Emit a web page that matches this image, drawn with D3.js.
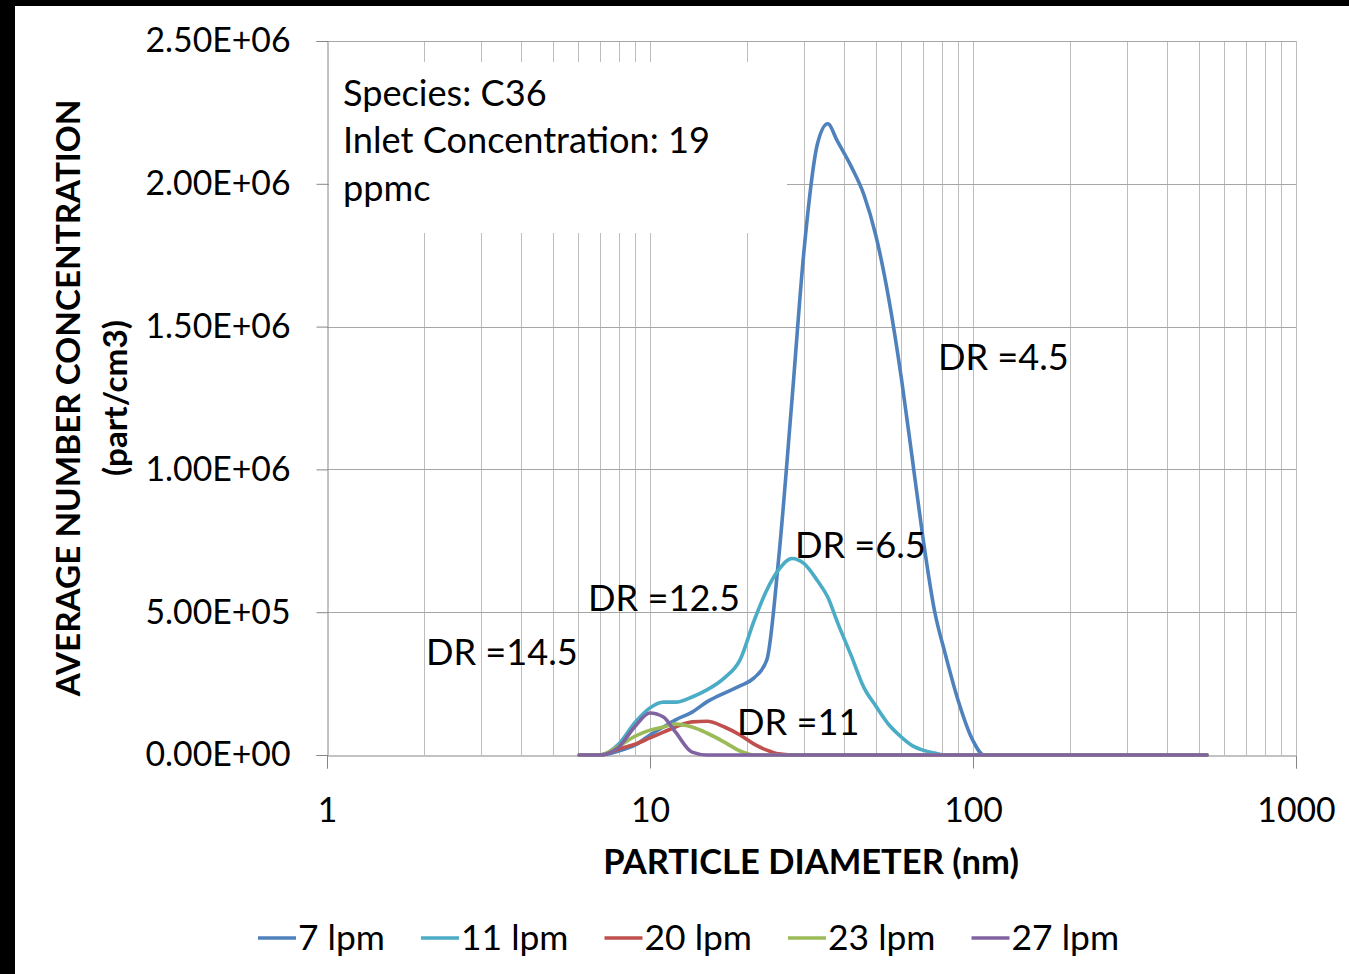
<!DOCTYPE html>
<html>
<head>
<meta charset="utf-8">
<script src="https://cdn.jsdelivr.net/npm/d3@7/dist/d3.min.js"></script>
<style>
html, body { margin: 0; padding: 0; background: #000; }
svg { display: block; }
</style>
</head>
<body>
<svg id="chart" width="1349" height="974"></svg>
<script>
// ---------------- DATA ----------------
const diameters = [6.04, 7, 8, 9, 10, 11, 12, 13.5, 15, 17, 19, 21, 23, 25, 27.5, 30, 33, 35.5, 38, 42, 46, 50, 55, 60, 65, 70, 76, 82, 90, 100, 108, 130, 200, 300, 400, 530];
const lpm7  = [0, 0, 14000, 35000, 70000, 98000, 123000, 150000, 186000, 217000, 242000, 270000, 333000, 683000, 1240000, 1770000, 2140000, 2210000, 2150000, 2060000, 1960000, 1820000, 1590000, 1320000, 1030000, 760000, 505000, 355000, 190000, 50000, 0, 0, 0, 0, 0, 0];
const lpm11 = [0, 0, 38000, 115000, 165000, 185000, 185000, 203000, 228000, 270000, 333000, 470000, 578000, 648000, 688000, 670000, 610000, 553000, 466000, 347000, 235000, 172000, 105000, 63000, 32000, 17000, 7000, 0, 0, 0, 0, 0, 0, 0, 0, 0];
const lpm20 = [0, 0, 21000, 38000, 60000, 80000, 98000, 116000, 118000, 98000, 70000, 38000, 17000, 4000, 0, 0, 0, 0, 0, 0, 0, 0, 0, 0, 0, 0, 0, 0, 0, 0, 0, 0, 0, 0, 0, 0];
const lpm23 = [0, 0, 31000, 66000, 87000, 98000, 108000, 98000, 77000, 45000, 14000, 0, 0, 0, 0, 0, 0, 0, 0, 0, 0, 0, 0, 0, 0, 0, 0, 0, 0, 0, 0, 0, 0, 0, 0, 0];
const lpm27 = [0, 0, 28000, 101000, 147000, 133000, 80000, 10000, 0, 0, 0, 0, 0, 0, 0, 0, 0, 0, 0, 0, 0, 0, 0, 0, 0, 0, 0, 0, 0, 0, 0, 0, 0, 0, 0, 0];

const seriesNames = ["7 lpm", "11 lpm", "20 lpm", "23 lpm", "27 lpm"];
const seriesValues = [lpm7, lpm11, lpm20, lpm23, lpm27];
const seriesColors = ["#4F81BD", "#4BACC6", "#C0504D", "#9BBB59", "#8064A2"];

const xTicks = [1, 10, 100, 1000];
const xTickLabels = ["1", "10", "100", "1000"];
const yTicks = [0, 500000, 1000000, 1500000, 2000000, 2500000];
const yTickLabels = ["0.00E+00", "5.00E+05", "1.00E+06", "1.50E+06", "2.00E+06", "2.50E+06"];

const drLabels = ["DR =4.5", "DR =6.5", "DR =12.5", "DR =14.5", "DR =11"];
const drLabelDiam = [77.9, 28.1, 6.43, 2.025, 18.6];
const drLabelConc = [1394000, 735000, 550000, 361000, 115500];

const noteLines = ["Species: C36", "Inlet Concentration: 19", "ppmc"];
const xTitle = "PARTICLE DIAMETER (nm)";
const yTitleLines = ["AVERAGE NUMBER CONCENTRATION", "(part/cm3)"];

// ---------------- LAYOUT ----------------
const FONT = "Lato, 'Open Sans', 'DejaVu Sans', sans-serif";
const svg = d3.select("#chart");
const L = 327, R = 1296, T = 41, B = 755;

svg.append("rect").attr("x", 0).attr("y", 0).attr("width", 1349).attr("height", 974).attr("fill", "#000");
svg.append("rect").attr("x", 15).attr("y", 6).attr("width", 1334).attr("height", 968)
  .attr("fill", "#fff");

const x = d3.scaleLog().domain([1, 1000]).range([L, R]);
const y = d3.scaleLinear().domain([0, 2500000]).range([B, T]);

function fit(sel, w) {
  const l = sel.node().getComputedTextLength();
  const fs = parseFloat(sel.attr("font-size"));
  sel.attr("font-size", fs * w / l);
  return fs * w / l;
}

// gridlines
const grid = svg.append("g");
const minorVals = [];
[1, 10, 100].forEach(dec => { for (let k = 1; k <= 9; k++) minorVals.push(k * dec); });
minorVals.push(1000);
grid.selectAll("line.v").data(minorVals.filter(v => v > 1)).join("line")
  .attr("x1", d => Math.round(x(d)) + 0.5).attr("x2", d => Math.round(x(d)) + 0.5)
  .attr("y1", T).attr("y2", B)
  .attr("stroke", "#bdbdbd").attr("stroke-width", 1);
grid.selectAll("line.h").data(yTicks.filter(v => v > 0)).join("line")
  .attr("x1", L).attr("x2", R)
  .attr("y1", d => Math.round(y(d)) + 0.5).attr("y2", d => Math.round(y(d)) + 0.5)
  .attr("stroke", "#a6a6a6").attr("stroke-width", 1);

// axes
const yAxis = svg.append("g").attr("transform", `translate(${L + 0.5},0)`)
  .call(d3.axisLeft(y).tickValues(yTicks).tickFormat((d, i) => yTickLabels[i]).tickSize(11).tickPadding(26));
const xAxis = svg.append("g").attr("transform", `translate(0,${B + 0.5})`)
  .call(d3.axisBottom(x).tickValues(xTicks).tickFormat((d, i) => xTickLabels[i]).tickSize(13).tickPadding(30));
[yAxis, xAxis].forEach(a => {
  a.select(".domain").attr("stroke", "#868686");
  a.selectAll(".tick line").attr("stroke", "#868686");
  a.selectAll("text").attr("font-family", FONT).attr("font-size", 33).attr("fill", "#000");
});
const topLbl = yAxis.selectAll(".tick text").filter((d) => d === 2500000);
const tickFs = fit(topLbl, 145);
yAxis.selectAll("text").attr("font-size", tickFs);
xAxis.selectAll("text").attr("font-size", tickFs);

// note box
svg.append("rect").attr("x", 329).attr("y", 62).attr("width", 458).attr("height", 171).attr("fill", "#fff");
const note = svg.append("g");
const noteY = [93, 140, 188];
let noteFs = 33;
noteLines.forEach((t, i) => {
  const tx = note.append("text").attr("x", 343).attr("y", noteY[i]).attr("dy", "0.35em")
    .attr("font-family", FONT).attr("font-size", 33).attr("fill", "#000").text(t);
  if (i === 1) noteFs = fit(tx, 367);
});
note.selectAll("text").attr("font-size", noteFs);

// series lines
const line = d3.line()
  .x((d, i) => x(diameters[i]))
  .y(d => y(d))
  .curve(d3.curveMonotoneX);
const lines = svg.append("g");
seriesValues.forEach((vals, s) => {
  lines.append("path").datum(vals).attr("d", line)
    .attr("fill", "none").attr("stroke", seriesColors[s])
    .attr("stroke-width", 3.6).attr("stroke-linejoin", "round").attr("stroke-linecap", "round");
});

// DR labels
const dr = svg.append("g");
drLabels.forEach((t, i) => {
  dr.append("text").attr("x", x(drLabelDiam[i])).attr("y", y(drLabelConc[i])).attr("dy", "0.35em")
    .attr("font-family", FONT).attr("font-size", noteFs).attr("fill", "#000").text(t);
});

// axis titles
const xt = svg.append("text").attr("x", 811).attr("y", 862).attr("dy", "0.35em").attr("text-anchor", "middle")
  .attr("font-family", FONT).attr("font-weight", "bold").attr("font-size", 30).attr("fill", "#000").text(xTitle);
fit(xt, 416);
const yt1 = svg.append("text").attr("transform", "translate(68,398) rotate(-90)").attr("dy", "0.35em")
  .attr("text-anchor", "middle").attr("font-family", FONT).attr("font-weight", "bold").attr("font-size", 30)
  .attr("fill", "#000").text(yTitleLines[0]);
const ytFs = fit(yt1, 597);
svg.append("text").attr("transform", "translate(115,398) rotate(-90)").attr("dy", "0.35em")
  .attr("text-anchor", "middle").attr("font-family", FONT).attr("font-weight", "bold").attr("font-size", ytFs)
  .attr("fill", "#000").text(yTitleLines[1]);

// legend
const leg = svg.append("g");
let lx = 258;
let legFs = 33;
seriesNames.forEach((n, i) => {
  leg.append("line").attr("x1", lx).attr("x2", lx + 38).attr("y1", 938).attr("y2", 938)
    .attr("stroke", seriesColors[i]).attr("stroke-width", 3.6);
  const t = leg.append("text").attr("x", lx + 40).attr("y", 938).attr("dy", "0.35em")
    .attr("font-family", FONT).attr("font-size", legFs).attr("fill", "#000").text(n);
  if (i === 0) { legFs = fit(t, 87); }
  t.attr("font-size", legFs);
  lx = lx + 40 + t.node().getComputedTextLength() + 36;
});
</script>
</body>
</html>
